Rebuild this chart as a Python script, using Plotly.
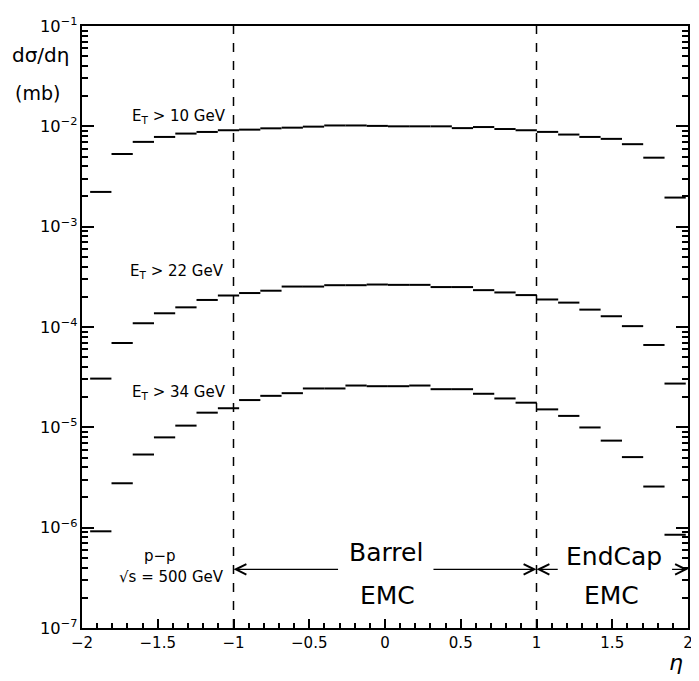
import math
import plotly.graph_objects as go

# ---- data ----
eta_centers = [-1.876, -1.735, -1.595, -1.455, -1.314, -1.174, -1.033,
               -0.893, -0.753, -0.612, -0.472, -0.331, -0.191, -0.051,
               0.090, 0.230, 0.371, 0.511, 0.651, 0.792, 0.932,
               1.073, 1.213, 1.353, 1.494, 1.634, 1.775, 1.915]
bin_width = 0.1404

et10 = [2.22e-3, 5.30e-3, 7.0e-3, 7.84e-3, 8.47e-3, 8.79e-3, 9.14e-3,
        9.27e-3, 9.55e-3, 9.7e-3, 9.93e-3, 1.02e-2, 1.02e-2, 1.01e-2,
        1.0e-2, 1.0e-2, 1.0e-2, 9.6e-3, 9.84e-3, 9.4e-3, 9.14e-3,
        8.8e-3, 8.28e-3, 7.84e-3, 7.5e-3, 6.64e-3, 4.87e-3, 1.95e-3]
et22 = [3.06e-5, 6.93e-5, 1.09e-4, 1.37e-4, 1.57e-4, 1.86e-4, 2.06e-4,
        2.18e-4, 2.30e-4, 2.53e-4, 2.53e-4, 2.61e-4, 2.61e-4, 2.65e-4,
        2.63e-4, 2.63e-4, 2.50e-4, 2.50e-4, 2.33e-4, 2.21e-4, 2.08e-4,
        1.88e-4, 1.75e-4, 1.49e-4, 1.28e-4, 1.02e-4, 6.62e-5, 2.73e-5]
et34 = [9.2e-7, 2.77e-6, 5.36e-6, 7.94e-6, 1.04e-5, 1.40e-5, 1.55e-5,
        1.87e-5, 2.06e-5, 2.19e-5, 2.44e-5, 2.44e-5, 2.61e-5, 2.57e-5,
        2.57e-5, 2.61e-5, 2.40e-5, 2.40e-5, 2.16e-5, 1.94e-5, 1.76e-5,
        1.51e-5, 1.30e-5, 9.97e-6, 7.37e-6, 5.05e-6, 2.57e-6, 8.5e-7]

region_bounds = [-1.0, 1.0]
x_ticks = [-2, -1.5, -1, -0.5, 0, 0.5, 1, 1.5, 2]

FONT = "DejaVu Sans"

fig = go.Figure()
for vals in (et10, et22, et34):
    fig.add_trace(go.Scatter(
        x=eta_centers, y=vals, mode="markers",
        marker=dict(size=0.1, color="black"),
        error_x=dict(type="data", array=[bin_width / 2] * len(vals),
                     symmetric=True, width=0, thickness=2, color="black"),
        showlegend=False, hoverinfo="skip"))

for xb in region_bounds:
    fig.add_shape(type="line", xref="x", yref="paper", x0=xb, x1=xb,
                  y0=0, y1=1, line=dict(color="black", width=1.5, dash="dash"))

# ---- annotations (positions in screen pixels converted to paper) ----
L, R, T, B = 82, 693, 20.7, 628.3
def px2paper(px, py):
    return (px - L) / (R - L), (B - py) / (B - T)

texts = [
    ("E<sub>T</sub> > 10 GeV", 180, 112, 15),
    ("E<sub>T</sub> > 22 GeV", 178, 268, 15),
    ("E<sub>T</sub> > 34 GeV", 180, 391, 15),
    ("p\u2212p", 161, 556, 15),
    ("\u221as = 500 GeV", 172, 577, 15),
    ("Barrel", 389, 552, 25),
    ("EMC", 390, 595, 25),
    ("EndCap", 618, 556, 25),
    ("EMC", 616, 596, 25),
    ("d\u03c3/d\u03b7", 40, 50, 20),
    ("(mb)", 37, 88, 19),
    ("<i>\u03b7</i>", 681, 663, 22),
]
for t, px, py, fs in texts:
    xp, yp = px2paper(px, py)
    fig.add_annotation(text=t, x=xp, y=yp, xref="paper", yref="paper",
                       showarrow=False, xanchor="center", yanchor="middle",
                       font=dict(family=FONT, size=fs, color="black"))

arrow_y = 3.84e-7
arrows = [(-0.30, -1.0), (0.31, 1.0), (1.15, 1.0), (1.885, 2.0)]
for tail, head in arrows:
    fig.add_annotation(x=head, y=math.log10(arrow_y), ax=tail, ay=math.log10(arrow_y),
                       xref="x", yref="y", axref="x", ayref="y", text="",
                       showarrow=True, arrowhead=5, arrowsize=1.6,
                       arrowwidth=1.3, arrowcolor="black")

# the page body adds an 8px offset; size the figure so the plot area lands
# on the same screen pixels as the reference
fig.update_layout(
    width=691, height=673,
    margin=dict(l=74, r=6, t=13, b=53),
    paper_bgcolor="white", plot_bgcolor="white",
    font=dict(family=FONT, color="black"),
    xaxis=dict(range=[-2, 2], tickvals=x_ticks, ticks="inside", ticklen=9,
               tickwidth=1.5, tickcolor="black",
               minor=dict(dtick=0.1, ticks="inside", ticklen=5, tickcolor="black",
                          showgrid=False),
               showline=True, linecolor="black", linewidth=2, mirror=True,
               showgrid=False, zeroline=False, tickfont=dict(size=15)),
    yaxis=dict(type="log", range=[-7, -1], dtick=1, exponentformat="power",
               ticks="inside", ticklen=12, tickwidth=1.5, tickcolor="black",
               minor=dict(ticks="inside", ticklen=6, tickcolor="black",
                          showgrid=False),
               showline=True, linecolor="black", linewidth=2, mirror="ticks",
               showgrid=False, zeroline=False, tickfont=dict(size=13)),
)

fig.write_html("out.html")
